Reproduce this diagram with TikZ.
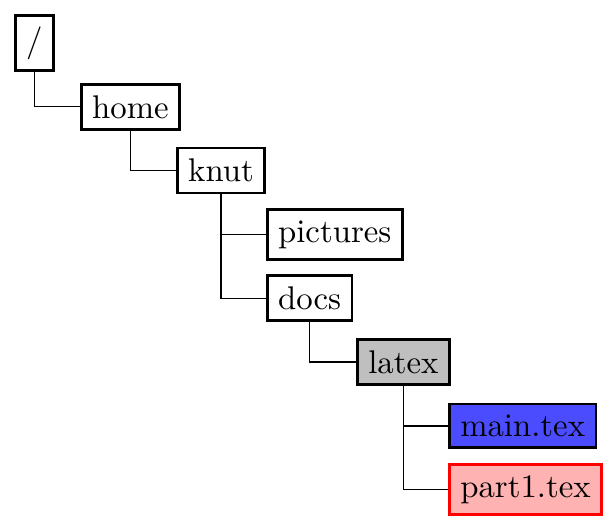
\documentclass[tikz,border=0pt]{standalone}
\usepackage{xcolor}
\usepackage{tikz}
\usetikzlibrary{calc}

\begin{document}
\begin{tikzpicture}[dir/.style={draw,thick,anchor=west}]
\useasboundingbox (-0.15,0.461) rectangle (6.42,-5.241);
%folders
\node[dir] (root) at (0,0) {/};
\node[dir] (home) at (0.707,-0.684) {home};
\node[dir] (knut) at (1.736,-1.368) {knut};
\node[dir] (pictures) at (2.70,-2.052) {pictures};
\node[dir] (docs) at (2.70,-2.736) {docs};
\node[dir,fill=black!25] (latex) at (3.666,-3.42) {latex};
%files
\node[dir,fill=blue!70] (maintex) at (4.652,-4.104) {main.tex};
\node[dir,draw=red,fill=red!30] (parttex) at (4.652,-4.788) {part1.tex};
%edges
\draw (root.south) |- (home.west);
\draw (home.south) |- (knut.west);
\draw (knut.south) |- (pictures.west);
\draw (knut.south) |- (docs.west);
\draw (docs.south) |- (latex.west);
\draw (latex.south) |- (maintex.west);
\draw (latex.south) |- (parttex.west);
\end{tikzpicture}
\end{document}
